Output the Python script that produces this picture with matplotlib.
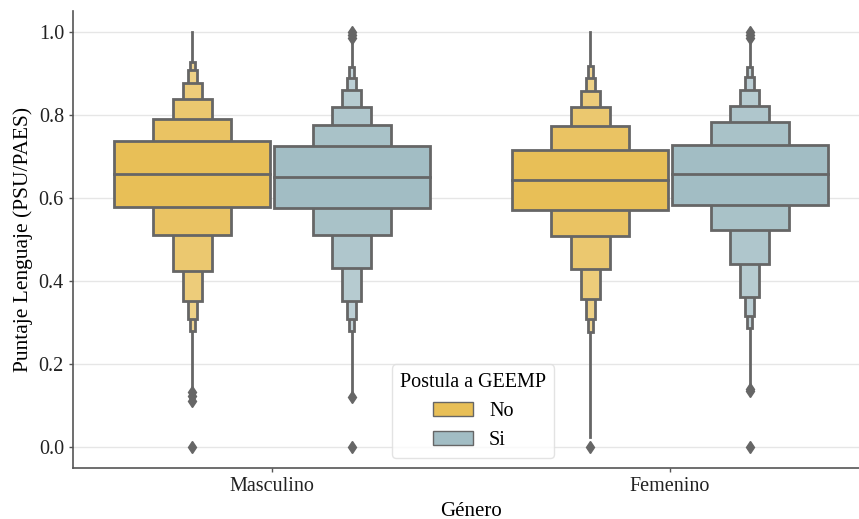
import matplotlib
matplotlib.use("Agg")
import matplotlib.pyplot as plt
import numpy as np
from matplotlib.colors import to_rgb
from matplotlib.patches import Patch

# --- data (letter values per group) ---
generos = ["Masculino", "Femenino"]
hues = ["No", "Si"]
hue_colors = {"No": "#E8BF57", "Si": "#A2BDC4"}

# level 1 = quartiles, then octiles, sixteenths, ...
lower = {
    ("Masculino", "No"): [0.579, 0.510, 0.425, 0.352, 0.309, 0.280],
    ("Masculino", "Si"): [0.575, 0.512, 0.432, 0.353, 0.309, 0.280],
    ("Femenino", "No"): [0.570, 0.508, 0.430, 0.356, 0.309, 0.277],
    ("Femenino", "Si"): [0.582, 0.522, 0.442, 0.362, 0.316, 0.288],
}
upper = {
    ("Masculino", "No"): [0.736, 0.791, 0.838, 0.877, 0.908, 0.927],
    ("Masculino", "Si"): [0.724, 0.776, 0.819, 0.860, 0.889, 0.916],
    ("Femenino", "No"): [0.715, 0.772, 0.818, 0.857, 0.889, 0.917],
    ("Femenino", "Si"): [0.728, 0.782, 0.822, 0.861, 0.891, 0.915],
}
medians = {
    ("Masculino", "No"): 0.658,
    ("Masculino", "Si"): 0.651,
    ("Femenino", "No"): 0.643,
    ("Femenino", "Si"): 0.658,
}
tail_low = {
    ("Masculino", "No"): 0.133,
    ("Masculino", "Si"): 0.123,
    ("Femenino", "No"): 0.024,
    ("Femenino", "Si"): 0.139,
}
tail_high = {
    ("Masculino", "No"): 1.0,
    ("Masculino", "Si"): 0.99,
    ("Femenino", "No"): 1.0,
    ("Femenino", "Si"): 0.99,
}
outliers = {
    ("Masculino", "No"): [0.133, 0.123, 0.112, 0.0],
    ("Masculino", "Si"): [0.120, 0.0, 0.985, 0.993, 1.0],
    ("Femenino", "No"): [0.0],
    ("Femenino", "Si"): [0.139, 0.135, 0.0, 0.985, 0.993, 1.0],
}

plt.rcParams["font.family"] = ["Liberation Serif", "DejaVu Serif"]
plt.rcParams["font.size"] = 14.5

fig = plt.figure(figsize=(8.59, 5.19), dpi=100)
ax = fig.add_axes([73 / 859, 51 / 519, 796 / 859, 457 / 519])

edge = "#666666"
full_w = 0.392
offsets = {"No": -0.2, "Si": 0.2}

for gi, g in enumerate(generos):
    for h in hues:
        key = (g, h)
        xc = gi + offsets[h]
        base = np.array(to_rgb(hue_colors[h]))
        lo, hi = lower[key], upper[key]
        n = len(lo)
        ax.plot([xc, xc], [tail_low[key], tail_high[key]], color=edge, lw=2, zorder=2)
        # narrowest (outermost) first so wider inner boxes sit on top
        for lvl in range(n - 1, -1, -1):
            w = full_w * 0.5 ** lvl
            col = base + (1 - base) * 0.07 * lvl
            ax.bar(xc, hi[lvl] - lo[lvl], bottom=lo[lvl], width=w, color=col,
                   edgecolor=edge, linewidth=2, zorder=3 + (n - lvl))
        ax.plot([xc - full_w / 2, xc + full_w / 2], [medians[key]] * 2,
                color=edge, lw=2, zorder=20)
        ys = outliers[key]
        ax.plot([xc] * len(ys), ys, "d", color=edge, ms=6, zorder=21)

ax.set_xlim(-0.5, 1.5)
ax.set_ylim(-0.05, 1.05)
ax.set_xticks(range(len(generos)))
ax.set_xticklabels(generos)
ax.set_yticks(np.arange(0, 1.01, 0.2))
ax.set_xlabel("Género", fontsize=15)
ax.set_ylabel("Puntaje Lenguaje (PSU/PAES)", fontsize=15.5)
ax.yaxis.grid(True, color="#e6e6e6", lw=1)
ax.set_axisbelow(True)
for s in ["top", "right"]:
    ax.spines[s].set_visible(False)
for s in ["left", "bottom"]:
    ax.spines[s].set_color("#555555")
    ax.spines[s].set_linewidth(1.2)
ax.tick_params(colors="#555555", labelcolor="#222222", length=3, width=1)

handles = [Patch(facecolor=hue_colors[h], edgecolor=edge, label=h) for h in hues]
leg = ax.legend(handles=handles, title="Postula a GEEMP", loc="lower center",
                bbox_to_anchor=(400 / 796, 0), frameon=True, fontsize=14.5,
                title_fontsize=14.5)
leg.get_frame().set_edgecolor("#dddddd")

fig.savefig("out.png", dpi=100)
